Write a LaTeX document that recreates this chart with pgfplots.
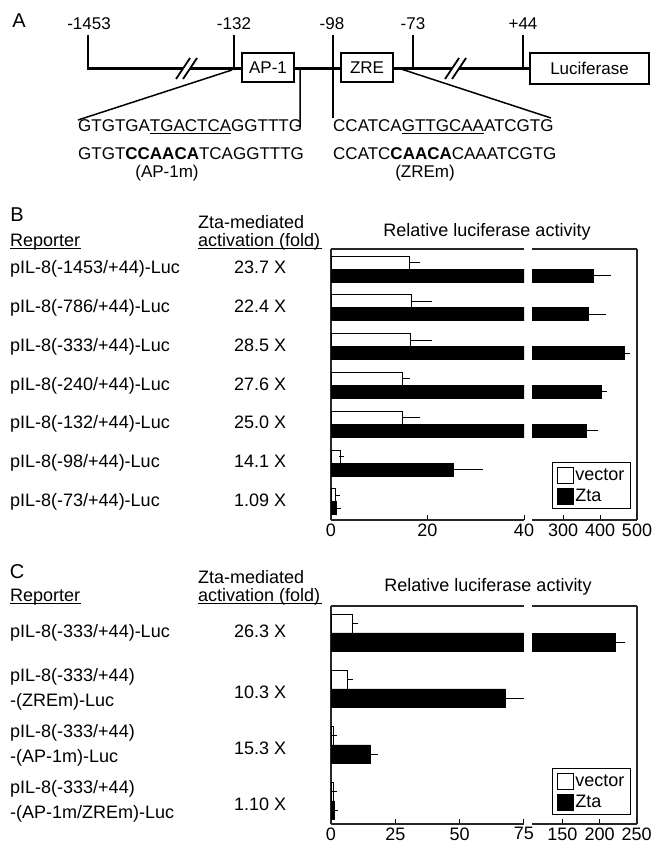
\documentclass[border=0pt]{standalone}
\usepackage{pgfplots}
\pgfplotsset{compat=1.18}
\usepackage{fontspec}
\setmainfont{Liberation Sans}
\pgfplotsset{
 panel/.style={scale only axis, anchor=north west, axis x line*=box, xtick pos=left,
   tick align=inside, major tick length=5pt, every tick/.style={black, line width=1pt},
   axis line style={line width=1.3pt, black!85}, y tick style={draw=none},
   /pgf/number format/assume math mode=true,
   xticklabel style={font=\fontsize{18}{21}\selectfont}, clip=true},
 vec/.style={xbar, bar width=#1, bar shift=0pt, draw=black, fill=white, line width=0.8pt,
   error bars/x dir=plus, error bars/x explicit,
   error bars/error bar style={line width=1pt, black},
   error bars/error mark options={line width=1pt, black, mark size=2.5pt}},
 zta/.style={xbar, bar width=#1, bar shift=0pt, draw=black, fill=black, line width=0.8pt,
   error bars/x dir=plus, error bars/x explicit,
   error bars/error bar style={line width=1pt, black},
   error bars/error mark options={line width=1pt, black, mark size=2.5pt}},
 leg/.style={legend style={at={(0.943,#1)}, anchor=north east, draw=black, line width=1.4pt,
   font=\fontsize{18}{21}\selectfont, inner xsep=5pt, inner ysep=4pt, row sep=4pt,
   nodes={inner sep=1pt}, cells={anchor=west}}},
}
\newcommand{\lab}[2]{\makebox[0pt][l]{#1}\hspace*{250pt}\makebox[0pt]{#2}}
\newcommand{\labb}[3]{\makebox[0pt][l]{\begin{tabular}{@{}l@{}}#1\\#2\end{tabular}}\hspace*{250pt}\makebox[0pt]{\raisebox{-5pt}{#3}}}
\begin{document}
\begin{tikzpicture}
\useasboundingbox (0,0) rectangle (651pt,-845pt);
% ---------------- Panel A ----------------
\begin{scope}[x=1pt,y=-1pt]
 \node[font=\fontsize{20}{24}\selectfont, inner sep=0] at (19,21) {A};
 \begin{scope}[font=\fontsize{17}{20}\selectfont]
 \foreach \xx/\tt in {89/-1453, 234/-132, 332/-98, 413/-73, 523/+44}
   \node[inner sep=0] at (\xx,24) {\tt};
 \draw[line width=2pt] (88,35)--(88,69) (234,35)--(234,69) (333,35)--(333,118)
   (413,35)--(413,69) (523,35)--(523,69);
 \draw[line width=3pt] (87,69)--(242,69) (294,69)--(341,69) (393,69)--(530,69);
 % breaks
 \fill[white] (176,79)--(190,58)--(197,58)--(183,79)--cycle;
 \draw[line width=1.8pt] (176,79)--(190,58) (183,79)--(197,58);
 \fill[white] (445,79)--(459,58)--(466,58)--(452,79)--cycle;
 \draw[line width=1.8pt] (445,79)--(459,58) (452,79)--(466,58);
 % boxes
 \draw[line width=1.5pt, fill=white] (242,53) rectangle (294,82);
 \node[inner sep=0] at (268,67.5) {AP-1};
 \draw[line width=1.5pt, fill=white] (341,53) rectangle (393,82);
 \node[inner sep=0] at (367,67.5) {ZRE};
 \draw[line width=1.5pt, fill=white] (530,53) rectangle (649,84);
 \node[inner sep=0] at (589.5,68.5) {Luciferase};
 % connecting lines
 \draw[line width=1.5pt] (300,69)--(300,127) (232,70)--(78,120) (401,69)--(551,118);
 % sequences
 \node[anchor=base west, inner sep=0] at (78,132) {GTGTGA\underline{TGACTCA}GGTTTG};
 \node[anchor=base west, inner sep=0] at (78,160) {GTGT\textbf{CCAACA}TCAGGTTTG};
 \node[anchor=base west, inner sep=0] at (333,132) {CCATCA\underline{GTTGCAA}ATCGTG};
 \node[anchor=base west, inner sep=0] at (333,160) {CCATC\textbf{CAACA}CAAATCGTG};
 \node[inner sep=0] at (167,173) {(AP-1m)};
 \node[inner sep=0] at (425,173) {(ZREm)};
 \end{scope}
 % ---------------- Panel B headers ----------------
 \node[font=\fontsize{20}{24}\selectfont, inner sep=0] at (17,215) {B};
 \begin{scope}[font=\fontsize{18}{21}\selectfont]
 \node[anchor=base west, inner sep=0] at (10,246.5) {Reporter};
 \draw[line width=1pt] (10,248.5)--(81,248.5);
 \node[anchor=base west, inner sep=0] at (198,228.5) {Zta-mediated};
 \node[anchor=base west, inner sep=0] at (198,246.5) {activation (fold)};
 \draw[line width=1pt] (198,248.5)--(322,248.5);
 \node[inner sep=0] at (487,232) {Relative luciferase activity};
 % ---------------- Panel C headers ----------------
 \node[font=\fontsize{20}{24}\selectfont, inner sep=0] at (17,572) {C};
 \node[anchor=base west, inner sep=0] at (10,601.5) {Reporter};
 \draw[line width=1pt] (10,603.5)--(81,603.5);
 \node[anchor=base west, inner sep=0] at (198,583.5) {Zta-mediated};
 \node[anchor=base west, inner sep=0] at (198,601.5) {activation (fold)};
 \draw[line width=1pt] (198,603.5)--(322,603.5);
 \node[inner sep=0] at (488,587) {Relative luciferase activity};
 \end{scope}
\end{scope}

% ---------------- Panel B axes ----------------
\begin{axis}[panel, at={(331pt,-249pt)}, width=193pt, height=271pt,
  xmin=0, xmax=40, ymin=-7.469, ymax=-0.4845, axis y line*=left,
  xtick={0,20,40},
  ytick={-1,-2,-3,-4,-5,-6,-7},
  yticklabel style={anchor=west, inner sep=0pt, xshift=-321pt, font=\fontsize{18}{21}\selectfont},
  yticklabels={
   {\lab{pIL-8(-1453/+44)-Luc}{23.7 X}},
   {\lab{pIL-8(-786/+44)-Luc}{22.4 X}},
   {\lab{pIL-8(-333/+44)-Luc}{28.5 X}},
   {\lab{pIL-8(-240/+44)-Luc}{27.6 X}},
   {\lab{pIL-8(-132/+44)-Luc}{25.0 X}},
   {\lab{pIL-8(-98/+44)-Luc}{14.1 X}},
   {\lab{pIL-8(-73/+44)-Luc}{1.09 X}}}]
 \addplot[vec=13pt] coordinates {
  (16.2,-0.8325) +- (1.8,0)
  (16.6,-1.8325) +- (3.8,0)
  (16.4,-2.8325) +- (4.1,0)
  (14.8,-3.8325) +- (1.0,0)
  (14.8,-4.8325) +- (3.2,0)
  (1.9,-5.8325) +- (0.3,0)
  (1.0,-6.8325) +- (0.3,0)};
 \addplot[zta=13pt] coordinates {
  (382,-1.1675) +- (42,0)
  (368,-2.1675) +- (41,0)
  (465,-3.1675) +- (9,0)
  (403,-4.1675) +- (10,0)
  (362,-5.1675) +- (27,0)
  (25.4,-6.1675) +- (5.6,0)
  (1.2,-7.1675) +- (0.3,0)};
\end{axis}
\begin{axis}[panel, at={(532pt,-249pt)}, width=105pt, height=271pt,
  xmin=216, xmax=500, ymin=-7.469, ymax=-0.4845, axis y line*=right,
  xtick={300,400,500}, ytick=\empty, leg=0.214]
 \addlegendimage{legend image code/.code={\draw[black, line width=1pt, fill=white] (0pt,-8pt) rectangle (16pt,8pt);}}
 \addlegendentry{vector}
 \addlegendimage{legend image code/.code={\draw[black, line width=1pt, fill=black] (0pt,-8pt) rectangle (16pt,8pt);}}
 \addlegendentry{Zta}
 % Zta values above the break (rows 1-5)
 \addplot[zta=13pt, forget plot] coordinates {
  (382,-1.1675) +- (42,0)
  (368,-2.1675) +- (41,0)
  (465,-3.1675) +- (9,0)
  (403,-4.1675) +- (10,0)
  (362,-5.1675) +- (27,0)};
\end{axis}

% ---------------- Panel C axes ----------------
\begin{axis}[panel, at={(331pt,-606pt)}, width=193pt, height=218pt,
  xmin=0, xmax=75, ymin=-4.411, ymax=-0.518, axis y line*=left,
  xtick={0,25,50,75},
  ytick={-1,-2,-3,-4},
  yticklabel style={anchor=west, inner sep=0pt, xshift=-321pt, font=\fontsize{18}{25}\selectfont},
  yticklabels={
   {\lab{pIL-8(-333/+44)-Luc}{26.3 X}},
   {\labb{pIL-8(-333/+44)}{-(ZREm)-Luc}{10.3 X}},
   {\labb{pIL-8(-333/+44)}{-(AP-1m)-Luc}{15.3 X}},
   {\labb{pIL-8(-333/+44)}{-(AP-1m/ZREm)-Luc}{1.10 X}}}]
 \addplot[vec=18.5pt] coordinates {
  (8.2,-0.835) +- (1.5,0)
  (6.4,-1.835) +- (1.0,0)
  (1.05,-2.835) +- (0.5,0)
  (1.1,-3.835) +- (0.4,0)};
 \addplot[zta=18.5pt] coordinates {
  (220.8,-1.165) +- (10.8,0)
  (67.8,-2.165) +- (6.1,0)
  (15.3,-3.165) +- (1.8,0)
  (1.2,-4.165) +- (0.4,0)};
\end{axis}
\begin{axis}[panel, at={(532pt,-606pt)}, width=105pt, height=218pt,
  xmin=109, xmax=250.5, ymin=-4.411, ymax=-0.518, axis y line*=right,
  xtick={150,200,250}, ytick=\empty, leg=0.2569]
 \addlegendimage{legend image code/.code={\draw[black, line width=1pt, fill=white] (0pt,-8pt) rectangle (16pt,8pt);}}
 \addlegendentry{vector}
 \addlegendimage{legend image code/.code={\draw[black, line width=1pt, fill=black] (0pt,-8pt) rectangle (16pt,8pt);}}
 \addlegendentry{Zta}
 % Zta value above the break (row 1)
 \addplot[zta=18.5pt, forget plot] coordinates {
  (220.8,-1.165) +- (10.8,0)};
\end{axis}
\end{tikzpicture}
\end{document}
